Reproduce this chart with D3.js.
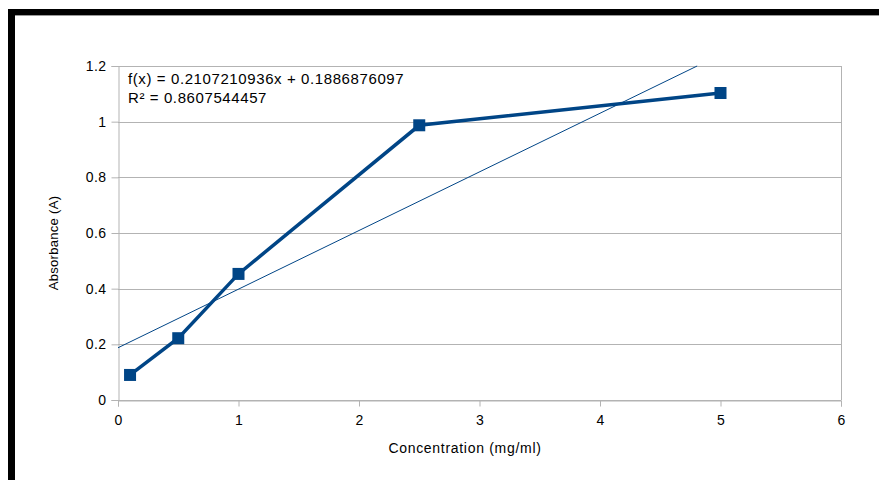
<!DOCTYPE html>
<html>
<head>
<meta charset="utf-8">
<script src="https://cdn.jsdelivr.net/npm/d3@7"></script>
<style>
  body { margin: 0; background: #fff; }
  text { font-family: "Liberation Sans", Arial, sans-serif; }
</style>
</head>
<body>
<div id="chart"></div>
<script>
const concentrations = [0.1, 0.5, 1, 2.5, 5];
const absorbance = [0.09, 0.222, 0.453, 0.987, 1.103];
const xTicks = [0, 1, 2, 3, 4, 5, 6];
const yTicks = [0, 0.2, 0.4, 0.6, 0.8, 1, 1.2];
const equationLines = ['f(x) = 0.2107210936x + 0.1886876097', 'R\u00b2 = 0.8607544457'];

const width = 879;
const height = 480;
const margin = { top: 66, right: 38, bottom: 80, left: 118 };

const svg = d3
  .select('#chart')
  .append('svg')
  .attr('width', width)
  .attr('height', height);

// black frame pieces from the screenshot
svg.append('rect').attr('x', 8).attr('y', 9).attr('width', width - 8).attr('height', 6).attr('fill', '#000');
svg.append('rect').attr('x', 8).attr('y', 9).attr('width', 7).attr('height', height - 9).attr('fill', '#000');
svg.append('line').attr('x1', 15).attr('x2', width).attr('y1', 15.5).attr('y2', 15.5).attr('stroke', '#999');

const x = d3.scaleLinear().domain([0, 6]).range([margin.left, width - margin.right]);
const y = d3.scaleLinear().domain([0, 1.2]).range([height - margin.bottom, margin.top]);

const grid = '#b3b3b3';

// horizontal grid
svg
  .selectAll('line.grid')
  .data(yTicks)
  .enter()
  .append('line')
  .attr('class', 'grid')
  .attr('x1', x(0))
  .attr('x2', x(6))
  .attr('y1', d => Math.round(y(d)) + 0.5)
  .attr('y2', d => Math.round(y(d)) + 0.5)
  .attr('stroke', grid);

// right border
svg.append('line')
  .attr('x1', Math.round(x(6)) + 0.5).attr('x2', Math.round(x(6)) + 0.5)
  .attr('y1', y(1.2)).attr('y2', y(0))
  .attr('stroke', grid);

const yAxis = svg
  .append('g')
  .attr('transform', `translate(${Math.round(x(0)) + 0.5},0)`)
  .call(d3.axisLeft(y).tickValues(yTicks).tickSize(7).tickPadding(5).tickFormat(d => String(d)));

const xAxis = svg
  .append('g')
  .attr('transform', `translate(0,${Math.round(y(0)) + 0.5})`)
  .call(d3.axisBottom(x).tickValues(xTicks).tickSize(6).tickPadding(9).tickFormat(d => String(d)));

[xAxis, yAxis].forEach(function(g) {
  g.select('.domain').attr('stroke', grid);
  g.selectAll('.tick line').attr('stroke', grid);
  g.selectAll('.tick text')
    .attr('fill', '#000')
    .style('font-size', '14px')
    .style('letter-spacing', '0.4px')
    .style('font-family', '"Liberation Sans", Arial, sans-serif');
});

// least squares trend line
const n = concentrations.length;
const mx = d3.mean(concentrations);
const my = d3.mean(absorbance);
let sxy = 0;
let sxx = 0;
for (let i = 0; i < n; i++) {
  sxy += (concentrations[i] - mx) * (absorbance[i] - my);
  sxx += (concentrations[i] - mx) ** 2;
}
const slope = sxy / sxx;
const intercept = my - slope * mx;
const xEnd = (1.2 - intercept) / slope;

const blue = '#004586';

svg.append('line')
  .attr('x1', x(0)).attr('y1', y(intercept))
  .attr('x2', x(xEnd)).attr('y2', y(intercept + slope * xEnd))
  .attr('stroke', blue)
  .attr('stroke-width', 1);

const line = d3
  .line()
  .x(function(d, i) {
    return x(concentrations[i]);
  })
  .y(function(d) {
    return y(d);
  });

svg.append('path')
  .datum(absorbance)
  .attr('d', line)
  .attr('fill', 'none')
  .attr('stroke', blue)
  .attr('stroke-width', 3.5);

svg
  .selectAll('rect.pt')
  .data(absorbance)
  .enter()
  .append('rect')
  .attr('class', 'pt')
  .attr('x', (d, i) => x(concentrations[i]) - 6)
  .attr('y', d => y(d) - 6)
  .attr('width', 12)
  .attr('height', 12)
  .attr('fill', blue);

// equation label
svg
  .selectAll('text.eq')
  .data(equationLines)
  .enter()
  .append('text')
  .attr('class', 'eq')
  .attr('x', 128)
  .attr('y', (d, i) => 84 + i * 19)
  .style('font-size', '15px')
  .style('letter-spacing', '0.6px')
  .attr('fill', '#000')
  .text(d => d);

// axis titles
svg.append('text')
  .attr('x', 465)
  .attr('y', 453)
  .attr('text-anchor', 'middle')
  .style('font-size', '14px')
  .style('letter-spacing', '0.7px')
  .text('Concentration (mg/ml)');

svg.append('text')
  .attr('transform', `translate(58,243) rotate(-90)`)
  .attr('text-anchor', 'middle')
  .style('font-size', '13px')
  .style('letter-spacing', '0.3px')
  .text('Absorbance (A)');
</script>
</body>
</html>
